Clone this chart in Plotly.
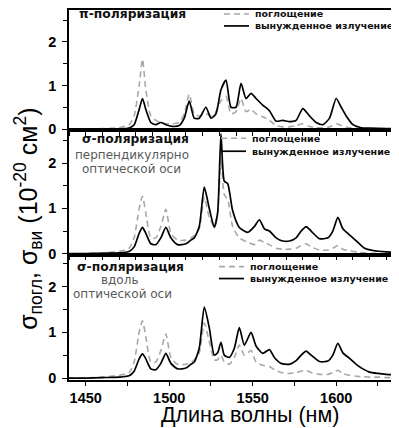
import plotly.graph_objects as go
from plotly.subplots import make_subplots

# ---------------- data ----------------
wl_pi = [1440, 1450, 1460, 1470, 1476, 1479, 1482, 1484, 1486, 1489, 1492, 1495, 1498,
         1502, 1506, 1509, 1512, 1515, 1518, 1522, 1525, 1528, 1531, 1534, 1537, 1540,
         1543, 1546, 1549, 1552, 1556, 1560, 1564, 1568, 1572, 1576, 1580, 1584, 1588,
         1592, 1596, 1600, 1603, 1606, 1610, 1615, 1620, 1630, 1640]
em_pi = [0.0, 0.0, 0.0, 0.0, 0.02, 0.1, 0.45, 0.70, 0.45, 0.15, 0.1, 0.15, 0.1,
         0.06, 0.08, 0.25, 0.64, 0.25, 0.25, 0.5, 0.25, 0.35, 0.9, 1.12, 0.5, 0.5,
         1.05, 0.7, 0.82, 0.7, 0.55, 0.42, 0.18, 0.2, 0.17, 0.2, 0.47, 0.3, 0.15,
         0.1, 0.25, 0.7, 0.5, 0.3, 0.1, 0.03, 0.02, 0.01, 0.01]
ab_pi = [0.0, 0.0, 0.01, 0.03, 0.1, 0.3, 1.0, 1.6, 0.9, 0.3, 0.2, 0.15, 0.12,
         0.12, 0.15, 0.35, 0.8, 0.35, 0.3, 0.35, 0.3, 0.4, 0.65, 0.75, 0.35, 0.4,
         0.7, 0.4, 0.45, 0.35, 0.28, 0.2, 0.08, 0.05, 0.05, 0.08, 0.12, 0.06, 0.03,
         0.03, 0.05, 0.12, 0.08, 0.04, 0.02, 0.01, 0.0, 0.0, 0.0]

wl_sp = [1440, 1450, 1460, 1470, 1476, 1479, 1482, 1484, 1486, 1489, 1492, 1495, 1498,
         1501, 1505, 1510, 1513, 1515, 1518, 1521, 1524, 1527, 1529, 1531, 1533, 1535,
         1538, 1542, 1547, 1551, 1554, 1557, 1560, 1564, 1568, 1572, 1576, 1579, 1582,
         1585, 1590, 1595, 1598, 1601, 1604, 1609, 1613, 1617, 1622, 1630, 1640]
em_sp = [0.0, 0.0, 0.01, 0.02, 0.05, 0.15, 0.45, 0.58, 0.45, 0.22, 0.2, 0.35, 0.58,
         0.35, 0.2, 0.22, 0.3, 0.35, 0.6, 1.47, 1.0, 0.58, 0.9, 2.65, 1.6, 1.55,
         0.95, 0.58, 0.47, 0.6, 0.75, 0.55, 0.5, 0.35, 0.28, 0.28, 0.35, 0.5, 0.6,
         0.5, 0.33, 0.35, 0.5, 0.8, 0.55, 0.38, 0.25, 0.12, 0.07, 0.04, 0.03]
ab_sp = [0.0, 0.0, 0.02, 0.05, 0.12, 0.35, 1.0, 1.27, 0.9, 0.35, 0.35, 0.6, 0.98,
         0.45, 0.3, 0.3, 0.35, 0.4, 0.55, 1.25, 0.8, 0.6, 0.9, 2.1, 1.3, 1.2,
         0.6, 0.35, 0.25, 0.2, 0.3, 0.25, 0.2, 0.12, 0.1, 0.1, 0.12, 0.18, 0.22,
         0.15, 0.08, 0.08, 0.12, 0.18, 0.1, 0.06, 0.03, 0.02, 0.01, 0.0, 0.0]

wl_sa = [1440, 1450, 1460, 1470, 1476, 1479, 1482, 1484, 1486, 1489, 1492, 1495, 1498,
         1501, 1505, 1510, 1513, 1515, 1518, 1521, 1524, 1527, 1529, 1531, 1533, 1536,
         1539, 1542, 1545, 1549, 1552, 1556, 1560, 1563, 1567, 1572, 1576, 1579, 1582,
         1585, 1590, 1595, 1598, 1601, 1604, 1608, 1612, 1616, 1620, 1625, 1630, 1635, 1640]
em_sa = [0.0, 0.0, 0.01, 0.02, 0.05, 0.15, 0.42, 0.53, 0.42, 0.2, 0.18, 0.32, 0.54,
         0.32, 0.2, 0.22, 0.3, 0.35, 0.65, 1.55, 1.1, 0.5, 0.55, 0.78, 0.5, 0.45,
         0.65, 1.1, 0.72, 1.0, 0.7, 0.54, 0.62, 0.45, 0.32, 0.3, 0.38, 0.5, 0.59,
         0.5, 0.36, 0.37, 0.5, 0.76, 0.55, 0.43, 0.3, 0.2, 0.13, 0.1, 0.08, 0.07, 0.07]
ab_sa = [0.0, 0.0, 0.02, 0.06, 0.12, 0.35, 1.0, 1.25, 0.9, 0.35, 0.35, 0.6, 0.96,
         0.45, 0.3, 0.3, 0.35, 0.4, 0.55, 1.2, 0.8, 0.4, 0.4, 0.5, 0.35, 0.3,
         0.45, 0.72, 0.5, 0.6, 0.35, 0.28, 0.25, 0.18, 0.12, 0.1, 0.12, 0.15, 0.17,
         0.12, 0.08, 0.08, 0.12, 0.17, 0.1, 0.06, 0.04, 0.03, 0.02, 0.02, 0.01, 0.01, 0.0]

legend_abs = "поглощение"
legend_em = "вынужденное излучение"
panel_titles = ["π-поляризация", "σ-поляризация", "σ-поляризация"]
x_ticks = [1450, 1500, 1550, 1600]
y_ticks = [0, 1, 2]

# ---------------- figure ----------------
# the page has an 8px body margin; the figure is sized so the plot reaches the window edges
OFF = 8
W, H = 399 - OFF, 428 - OFF
ML, MR, MT, MB = 69 - OFF, 0, 0, 48
PW, PH = W - ML - MR, H - MT - MB
BOTTOM = 380  # window pixel row of the bottom axis


def fy(py):
    return (BOTTOM - py) / PH


def fx(px):
    return (px - 69) / PW


fig = make_subplots(rows=3, cols=1, shared_xaxes=True, vertical_spacing=0)

panels = [(wl_pi, ab_pi, em_pi), (wl_sp, ab_sp, em_sp), (wl_sa, ab_sa, em_sa)]
for i, (wl, ab, em) in enumerate(panels, start=1):
    fig.add_trace(go.Scatter(x=wl, y=ab, mode="lines", line_shape="spline",
                             line=dict(color="#a8a8a8", width=1.6, dash="6px,4px", smoothing=0.6),
                             showlegend=False), row=i, col=1)
    fig.add_trace(go.Scatter(x=wl, y=em, mode="lines", line_shape="spline",
                             line=dict(color="black", width=1.7, smoothing=0.6),
                             showlegend=False), row=i, col=1)

domains = [(fy(129), 1.0), (fy(254), fy(129)), (0.0, fy(254))]
yranges = [[-0.03, 2.73], [-0.022, 2.725], [-0.043, 2.696]]
xr = [1440, 1440 + PW / 1.67]

tickfont = dict(family="Liberation Sans, Arial, sans-serif", size=14.5, color="black")

for i in range(3):
    ya = "yaxis" if i == 0 else f"yaxis{i+1}"
    xa = "xaxis" if i == 0 else f"xaxis{i+1}"
    fig.layout[ya].update(domain=list(domains[i]), range=yranges[i], showgrid=False,
                          zeroline=False, showline=True, linecolor="black", linewidth=1.5,
                          ticks="outside", ticklen=5, tickwidth=1.2, tickcolor="black",
                          tickvals=y_ticks, ticktext=[f"<b>{v}</b>" for v in y_ticks],
                          tickfont=tickfont, ticklabelstandoff=3,
                          minor=dict(dtick=0.5, tick0=0, ticks="outside", ticklen=4,
                                     tickwidth=1.2, tickcolor="black"))
    common = dict(range=xr, showgrid=False, zeroline=False, showline=True, mirror=True,
                  linecolor="black", linewidth=1.5, tickcolor="black", tickwidth=1.2)
    if i < 2:
        fig.layout[xa].update(**common, ticks="outside", ticklen=4, dtick=10, tick0=1440,
                              showticklabels=False)
    else:
        fig.layout[xa].update(**common, ticks="outside", ticklen=4,
                              tickvals=x_ticks, ticktext=[f"<b>{v}</b>" for v in x_ticks],
                              tickfont=tickfont,
                              minor=dict(dtick=25, tick0=1450, ticks="outside", ticklen=4,
                                         tickwidth=1.2, tickcolor="black"))

ann = []
title_font = dict(family="DejaVu Sans, Verdana, sans-serif", size=12.3, color="#111")
leg_font = dict(family="DejaVu Sans, Verdana, sans-serif", size=9.5, color="#111")
gray = dict(family="DejaVu Sans, Verdana, sans-serif", size=12, color="#5a5a5a")

# panel labels
ann.append(dict(x=fx(77), y=fy(12), text=f"<b>{panel_titles[0]}</b>", font=title_font,
                xanchor="left", yanchor="middle"))
ann.append(dict(x=fx(80), y=fy(138), text=f"<b>{panel_titles[1]}</b>", font=title_font,
                xanchor="left", yanchor="middle"))
ann.append(dict(x=fx(132), y=fy(154), text="перпендикулярно", font=gray,
                xanchor="center", yanchor="middle"))
ann.append(dict(x=fx(131), y=fy(168), text="оптической оси", font=gray,
                xanchor="center", yanchor="middle"))
ann.append(dict(x=fx(75), y=fy(266), text=f"<b>{panel_titles[2]}</b>", font=title_font,
                xanchor="left", yanchor="middle"))
ann.append(dict(x=fx(119), y=fy(279), text="вдоль", font=gray,
                xanchor="center", yanchor="middle"))
ann.append(dict(x=fx(122), y=fy(294), text="оптической оси", font=gray,
                xanchor="center", yanchor="middle"))

# legends
shapes = []
for (y1, y2, x0) in [(12, 24, 224), (137, 150, 221), (266, 278, 219)]:
    shapes.append(dict(type="line", xref="paper", yref="paper", x0=fx(x0), x1=fx(x0 + 25),
                       y0=fy(y1), y1=fy(y1), line=dict(color="#a8a8a8", width=1.6, dash="6px,4px")))
    shapes.append(dict(type="line", xref="paper", yref="paper", x0=fx(x0), x1=fx(x0 + 25),
                       y0=fy(y2), y1=fy(y2), line=dict(color="black", width=1.7)))
    ann.append(dict(x=fx(x0 + 29), y=fy(y1), text=f"<b>{legend_abs}</b>", font=leg_font,
                    xanchor="left", yanchor="middle"))
    ann.append(dict(x=fx(x0 + 29), y=fy(y2), text=f"<b>{legend_em}</b>", font=leg_font,
                    xanchor="left", yanchor="middle"))

# axis titles
ann.append(dict(x=fx(250), y=fy(415), text="Длина волны (нм)",
                font=dict(family="Liberation Sans, Arial, sans-serif", size=21.5, color="black"),
                xanchor="center", yanchor="middle"))
ann.append(dict(x=fx(28), y=fy(218),
                text="σ<sub>погл</sub>, σ<sub>ви</sub> (10<sup>-20</sup> см<sup>2</sup>)",
                textangle=-90,
                font=dict(family="Liberation Sans, Arial, sans-serif", size=25, color="black"),
                xanchor="center", yanchor="middle"))

for a in ann:
    a.update(xref="paper", yref="paper", showarrow=False)

fig.update_layout(width=W, height=H, margin=dict(l=ML, r=MR, t=MT, b=MB),
                  paper_bgcolor="white", plot_bgcolor="white",
                  annotations=ann, shapes=shapes, showlegend=False)

fig.write_html("out.html")
